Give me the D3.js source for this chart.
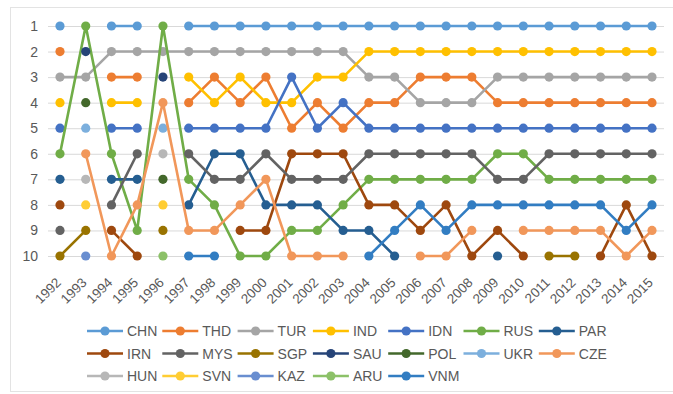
<!DOCTYPE html>
<html>
<head>
<meta charset="utf-8">
<script src="https://cdn.jsdelivr.net/npm/d3@7/dist/d3.min.js"></script>
<style>
  html, body { margin: 0; padding: 0; background: #fff; }
  svg { display: block; }
  text { font-family: "Liberation Sans", Arial, sans-serif; fill: #595959; }
</style>
</head>
<body>
<svg id="chart" width="673" height="394"></svg>
<script>
// Years on the horizontal axis
const years = d3.range(1992, 2016).map(String);
const rankTicks = [1, 2, 3, 4, 5, 6, 7, 8, 9, 10];

// Rank per year (null = outside the top 10 that year)
const _ = null;
const CHN = [1,_,1,1,_,1,1,1,1,1,1,1,1,1,1,1,1,1,1,1,1,1,1,1];
const THD = [2,_,3,3,_,4,3,4,3,5,4,5,4,4,3,3,3,4,4,4,4,4,4,4];
const TUR = [3,3,2,2,2,2,2,2,2,2,2,2,3,3,4,4,4,3,3,3,3,3,3,3];
const IND = [4,_,4,4,_,3,4,3,4,4,3,3,2,2,2,2,2,2,2,2,2,2,2,2];
const IDN = [5,_,5,5,_,5,5,5,5,3,5,4,5,5,5,5,5,5,5,5,5,5,5,5];
const RUS = [6,1,6,9,1,7,8,10,10,9,9,8,7,7,7,7,7,6,6,7,7,7,7,7];
const PAR = [7,_,7,7,_,8,6,6,8,8,8,9,9,10,_,_,_,10,_,_,_,_,_,_];
const IRN = [8,_,9,10,_,_,_,9,9,6,6,6,8,8,9,8,10,9,10,_,_,10,8,10];
const MYS = [9,_,8,6,_,6,7,7,6,7,7,7,6,6,6,6,6,7,7,6,6,6,6,6];
const SGP = [10,9,_,_,9,_,_,_,_,_,_,_,_,_,_,_,_,_,_,10,10,_,_,_];
const SAU = [_,2,_,_,3,_,_,_,_,_,_,_,_,_,_,_,_,_,_,_,_,_,_,_];
const POL = [_,4,_,_,7,_,_,_,_,_,_,_,_,_,_,_,_,_,_,_,_,_,_,_];
const UKR = [_,5,_,_,5,_,_,_,_,_,_,_,_,_,_,_,_,_,_,_,_,_,_,_];
const CZE = [_,6,10,8,4,9,9,8,7,10,10,10,_,_,10,10,9,_,9,9,9,9,10,9];
const HUN = [_,7,_,_,6,_,_,_,_,_,_,_,_,_,_,_,_,_,_,_,_,_,_,_];
const SVN = [_,8,_,_,8,_,_,_,_,_,_,_,_,_,_,_,_,_,_,_,_,_,_,_];
const KAZ = [_,10,_,_,_,_,_,_,_,_,_,_,_,_,_,_,_,_,_,_,_,_,_,_];
const ARU = [_,_,_,_,10,_,_,_,_,_,_,_,_,_,_,_,_,_,_,_,_,_,_,_];
const VNM = [_,_,_,_,_,10,10,_,_,_,_,_,10,9,8,9,8,8,8,8,8,8,9,8];

const names = ["CHN","THD","TUR","IND","IDN","RUS","PAR","IRN","MYS","SGP",
               "SAU","POL","UKR","CZE","HUN","SVN","KAZ","ARU","VNM"];
const rankRows = [CHN,THD,TUR,IND,IDN,RUS,PAR,IRN,MYS,SGP,
                  SAU,POL,UKR,CZE,HUN,SVN,KAZ,ARU,VNM];
const colors = ["#5B9BD5","#ED7D31","#A5A5A5","#FFC000","#4472C4","#70AD47","#255E91",
                "#9E480E","#636363","#997300","#264478","#43682B","#7CAFDD","#F1975A",
                "#B7B7B7","#FFCD33","#698ED0","#8CC168","#327DC2"];

const series = names.map((name, i) => ({
  name,
  color: colors[i],
  values: years.map((yr, j) => ({ year: yr, rank: rankRows[i][j] }))
}));

const svg = d3.select("#chart");

// chart area frame
svg.append("rect")
  .attr("x", 10.5).attr("y", 7.5)
  .attr("width", 700).attr("height", 384)
  .attr("fill", "#fff").attr("stroke", "#e3e3e3").attr("stroke-width", 1);

const plot = { left: 48, right: 664, top: 26, bottom: 256 };

const x = d3.scalePoint().domain(years).range([60, 652]);
const y = d3.scaleLinear().domain([1, 10]).range([plot.top, plot.bottom]);

// horizontal gridlines + rank labels
const yAxis = svg.append("g")
  .attr("transform", `translate(${plot.left},0)`)
  .call(d3.axisLeft(y).tickValues(rankTicks).tickFormat(d3.format("d"))
    .tickSize(-(plot.right - plot.left)).tickPadding(10));
yAxis.select(".domain").remove();
yAxis.selectAll(".tick line").attr("stroke", "#d9d9d9").attr("stroke-width", 1);
yAxis.selectAll(".tick text")
  .style("font-size", "14px").attr("fill", "#595959");

// rotated year labels
const xAxis = svg.append("g")
  .attr("transform", `translate(0,${plot.bottom + 8})`)
  .call(d3.axisBottom(x).tickSize(0));
xAxis.select(".domain").remove();
xAxis.selectAll(".tick text")
  .attr("x", 0).attr("y", 0).attr("dy", "0.35em")
  .attr("transform", "translate(-2,16) rotate(-45)")
  .style("text-anchor", "end")
  .style("font-size", "13.5px")
  .attr("fill", "#595959");

// series lines and markers
const line = d3.line()
  .defined(d => d.rank !== null)
  .x(d => x(d.year))
  .y(d => y(d.rank));

const groups = svg.append("g").selectAll("g.series")
  .data(series).join("g").attr("class", "series");

groups.append("path")
  .attr("d", d => line(d.values))
  .attr("fill", "none")
  .attr("stroke", d => d.color)
  .attr("stroke-width", 2.6)
  .attr("stroke-linejoin", "round");

groups.each(function (s) {
  d3.select(this).selectAll("circle")
    .data(s.values.filter(v => v.rank !== null))
    .join("circle")
    .attr("cx", d => x(d.year))
    .attr("cy", d => y(d.rank))
    .attr("r", 4.6)
    .attr("fill", s.color);
});

// legend: 7 columns, 3 rows
const legendCols = 7, colW = 75.3, legendX = 87, rowY = [331, 353.5, 376];
const legend = svg.append("g").selectAll("g.item")
  .data(series).join("g").attr("class", "item")
  .attr("transform", (d, i) =>
    `translate(${legendX + (i % legendCols) * colW},${rowY[Math.floor(i / legendCols)]})`);

legend.append("line")
  .attr("x1", 0).attr("x2", 36).attr("y1", 0).attr("y2", 0)
  .attr("stroke", d => d.color).attr("stroke-width", 2.6);
legend.append("circle")
  .attr("cx", 18).attr("cy", 0).attr("r", 4.6)
  .attr("fill", d => d.color);
legend.append("text")
  .attr("x", 40).attr("y", 0).attr("dy", "0.36em")
  .style("font-size", "14px")
  .attr("fill", "#595959")
  .text(d => d.name);
</script>
</body>
</html>
